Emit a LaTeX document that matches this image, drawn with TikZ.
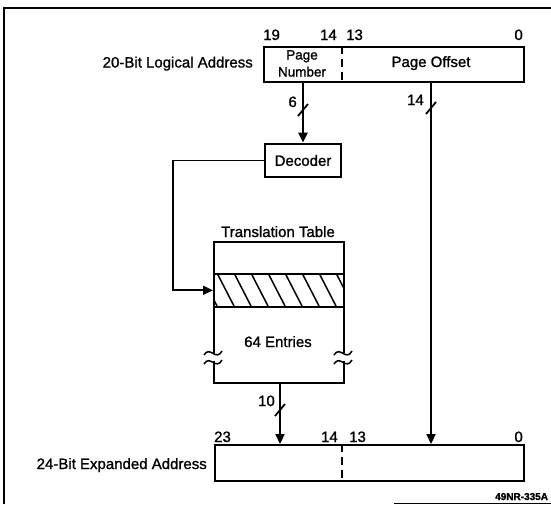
\documentclass[tikz,border=0pt]{standalone}
\usepackage{fontspec}
\setmainfont[FakeBold=1.5]{Liberation Sans}
\newfontfamily\heavy[FakeBold=1.2]{Liberation Sans}
\usetikzlibrary{arrows.meta,calc}
\begin{document}
\begin{tikzpicture}[x=1pt,y=-1pt,
  txt/.style={inner sep=0pt, font=\heavy\fontsize{15}{16}\selectfont},
  small/.style={inner sep=0pt, font=\heavy\fontsize{13.5}{14}\selectfont},
  boxline/.style={draw, line width=2.2pt, inner sep=0pt},
  wire/.style={line width=2.2pt},
  tip/.style={-{Triangle[length=10pt,width=9pt]}},
  arr/.style={wire, tip},
  slash/.style={line width=1.8pt},
  divider/.style={line width=2pt, dash pattern=on 8pt off 5pt},
  brk/.style={line width=1.5pt},
]
\useasboundingbox (0,0) rectangle (551,504);
% outer frame (cut off at right and bottom)
\draw[line width=1.2pt] (4,504) -- (4,8) -- (551,8);

% helper coordinates
\coordinate (divx) at (341.5,0);
\coordinate (offx) at (431,0);
\coordinate (outx) at (280,0);
\coordinate (bend) at (173,160.5);
\coordinate (s1) at (303,110);
\coordinate (s2) at (431,108);
\coordinate (s3) at (280,410);

% 20-bit logical address
\node[boxline, minimum width=260pt, minimum height=35pt, anchor=north west] (la) at (263,46) {};
\draw[divider] (la.north -| divx) -- (la.south -| divx);
\node[small, anchor=base] (pg) at (302,59.5) {Page};
\node[small, anchor=base] (pnum) at (302,76.5) {Number};
\node[txt, anchor=base] (po) at (431,67) {Page Offset};
\node[txt, anchor=base east] (lal) at (253,67.5) {20-Bit Logical Address};
\node[txt, anchor=base west] (b19) at (263,40) {19};
\node[txt, anchor=base east] (b14) at (337,40) {14};
\node[txt, anchor=base west] (b13) at (346,40) {13};
\node[txt, anchor=base east] (b0) at (523,40) {0};

% decoder
\node[draw, line width=2.8pt, minimum width=76pt, minimum height=33pt, txt] (dec) at (303,160.5) {Decoder};

% translation table
\node[txt, anchor=base] (ttl) at (278,237) {Translation Table};
\node[boxline, minimum width=130pt, minimum height=141pt, anchor=north west] (tt) at (213,241) {};
\node[draw, line width=1.6pt, minimum width=130pt, minimum height=33pt, anchor=north west, inner sep=0pt] (hb) at (213,273) {};
\begin{scope}
  \clip (hb.north west) rectangle (hb.south east);
  \foreach \a in {200,217,...,353} \draw[line width=1.5pt] (\a,273) -- ++(17,33);
\end{scope}
\node[txt, anchor=base] (ent) at (278,347) {64 Entries};
% break marks on both sides
\foreach \x in {213,343} {
  \fill[white] (\x-3,353) rectangle (\x+3,361);
  \draw[brk] (\x-9,355) .. controls (\x-3,345) and (\x+3,362) .. (\x+9,351);
  \draw[brk] (\x-9,364) .. controls (\x-3,354) and (\x+3,371) .. (\x+9,360);
}

% 24-bit expanded address
\node[boxline, minimum width=309pt, minimum height=36pt, anchor=north west] (ea) at (214,444) {};
\draw[divider] (ea.north -| divx) -- (ea.south -| divx);
\node[txt, anchor=base west] (e23) at (214,442) {23};
\node[txt, anchor=base east] (e14) at (338,442) {14};
\node[txt, anchor=base west] (e13) at (349,442) {13};
\node[txt, anchor=base east] (e0) at (523,442) {0};
\node[txt, anchor=base east] (eal) at (207,469) {24-Bit Expanded Address};

% connectors
\draw[arr] (la.south -| dec.north) -- (dec.north);
\draw[arr] (la.south -| offx) -- (ea.north -| offx);
\draw[arr] (tt.south -| outx) -- (ea.north -| outx);
\draw[line width=1.7pt, tip] (dec.west) -- (bend) |- (hb.west);

% bus-width slashes and labels
\draw[slash] ($(s1)+(-5,6)$) -- ($(s1)+(5,-6)$);
\draw[slash] ($(s2)+(-5,6)$) -- ($(s2)+(5,-6)$);
\draw[slash] ($(s3)+(-5,6)$) -- ($(s3)+(5,-6)$);
\node[txt, anchor=base east] (w6) at (297,107) {6};
\node[txt, anchor=base east] (w14) at (424,105) {14};
\node[txt, anchor=base east] (w10) at (275,406) {10};

% figure code
\node[inner sep=0pt, anchor=base west, font=\bfseries\fontsize{10}{11}\selectfont] (fig) at (495,500) {49NR-335A};
\coordinate (fl) at (394,503);
\draw[line width=0.8pt] (fl) -- (551,503);
\end{tikzpicture}
\end{document}
